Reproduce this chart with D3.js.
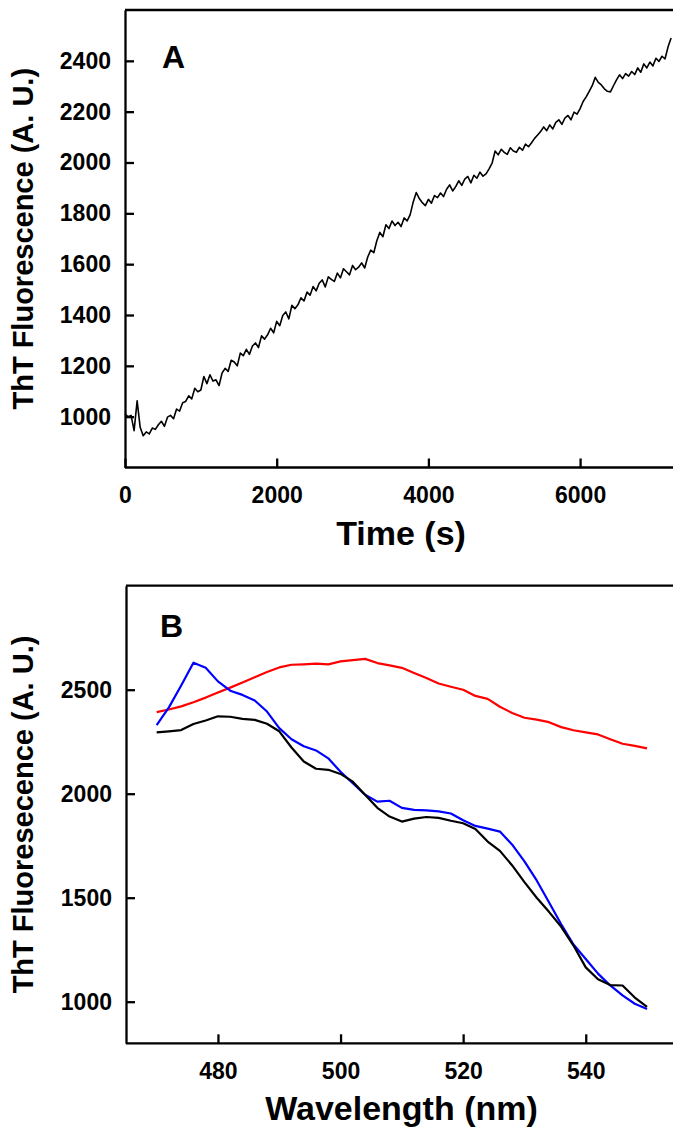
<!DOCTYPE html>
<html lang="en">
<head>
    <meta charset="UTF-8">
    <title>ThT fluorescence</title>
    <script src="https://d3js.org/d3.v7.min.js"></script>
    <style>
        body { margin: 0; background: #fff; }
        svg { display: block; font-family: "Liberation Sans", Arial, sans-serif; font-weight: bold; }
        .axis path, .axis line { stroke: #000; stroke-width: 2.3; }
        .axis text { font-size: 23px; font-weight: bold; fill: #000; font-family: "Liberation Sans", Arial, sans-serif; }
    </style>
</head>
<body>
<svg id="chart" width="673" height="1128"></svg>
<script>
    // Panel A: kinetics, one reading every 40 s starting at 0 s
    const timeStep = 40;
    const kinetics = [
        1010, 1000, 1005, 945, 1062, 958, 925, 940, 932, 955,
        950, 968, 982, 962, 998, 1005, 992, 1030, 1022, 1055,
        1060, 1082, 1070, 1112, 1098, 1105, 1158, 1130, 1165, 1140,
        1145, 1122, 1172, 1190, 1178, 1222, 1215, 1200, 1250, 1240,
        1265, 1245, 1278, 1290, 1272, 1318, 1305, 1322, 1348, 1330,
        1375, 1358, 1398, 1412, 1385, 1438, 1425, 1440, 1468, 1455,
        1490, 1478, 1512, 1495, 1525, 1538, 1510, 1550, 1540, 1532,
        1565, 1546, 1582, 1570, 1558, 1595, 1578, 1588, 1605, 1585,
        1628, 1655, 1645, 1692, 1725, 1708, 1755, 1740, 1770, 1752,
        1765, 1748, 1782, 1770, 1795, 1845, 1882, 1858, 1842, 1830,
        1855, 1840, 1870, 1862, 1880, 1866, 1895, 1912, 1888, 1905,
        1928, 1910, 1935, 1945, 1920, 1950, 1938, 1962, 1946, 1955,
        1975, 1998, 2045, 2030, 2052, 2040, 2032, 2058, 2045, 2040,
        2060, 2048, 2072, 2062, 2078, 2095, 2108, 2122, 2140, 2125,
        2148, 2132, 2158, 2168, 2150, 2175, 2185, 2168, 2198, 2190,
        2212, 2240, 2258, 2280, 2302, 2335, 2315, 2305, 2290, 2280,
        2278, 2302, 2325, 2345, 2330, 2350, 2340, 2358, 2346, 2372,
        2355, 2388, 2372, 2395, 2380, 2410, 2398, 2418, 2408, 2455,
        2490
    ];
    const timeTicks = [0, 2000, 4000, 6000];
    const kineticsTicks = [1000, 1200, 1400, 1600, 1800, 2000, 2200, 2400];

    // Panel B: emission spectra, every 2 nm from 470 nm
    const wavelengths = d3.range(470, 551, 2);
    const redSpectrum = [
        2392, 2405, 2420, 2440, 2462, 2487, 2510, 2535, 2560, 2585,
        2607, 2620, 2622, 2625, 2622, 2636, 2642, 2648, 2628, 2617,
        2605, 2580, 2556, 2530, 2514, 2500, 2470, 2456, 2418, 2388,
        2365, 2356, 2344, 2320, 2305, 2295, 2285, 2262, 2240, 2230,
        2218
    ];
    const blueSpectrum = [
        2330, 2415, 2520, 2630, 2605, 2540, 2495, 2475, 2448, 2395,
        2315, 2262, 2228, 2208, 2170, 2105, 2050, 1995, 1962, 1966,
        1932, 1922, 1920, 1915, 1905, 1872, 1845, 1832, 1818, 1755,
        1675, 1583, 1478, 1372, 1275, 1205, 1135, 1078, 1030, 990,
        965
    ];
    const blackSpectrum = [
        2295, 2300, 2306, 2335, 2352, 2372, 2370, 2360, 2355, 2336,
        2300, 2222, 2155, 2120, 2115, 2095, 2058, 1995, 1932, 1890,
        1866, 1880, 1888, 1884, 1870, 1858, 1830, 1770, 1725, 1655,
        1575, 1500, 1432, 1360, 1270, 1165, 1108, 1080, 1078, 1020,
        975
    ];
    const wavelengthTicks = [480, 500, 520, 540];
    const spectrumTicks = [1000, 1500, 2000, 2500];

    const svg = d3.select("#chart");
    const W = 673;

    function drawPanel(opts) {
        const g = svg.append("g");
        const x = opts.x, y = opts.y;
        const left = x.range()[0], top = y.range()[1], bottom = y.range()[0];

        // top border runs off the right edge of the picture
        g.append("line")
            .attr("x1", left).attr("x2", W)
            .attr("y1", top).attr("y2", top)
            .attr("stroke", "#000").attr("stroke-width", 2.3);

        g.append("g")
            .attr("class", "axis")
            .attr("transform", `translate(${left},0)`)
            .call(d3.axisLeft(y).tickValues(opts.yTicks).tickFormat(d3.format("d"))
                .tickSizeInner(-9).tickSizeOuter(0).tickPadding(14));

        const xa = g.append("g")
            .attr("class", "axis")
            .attr("transform", `translate(0,${bottom})`)
            .call(d3.axisBottom(x).tickValues(opts.xTicks).tickFormat(d3.format("d"))
                .tickSizeInner(-9).tickSizeOuter(0).tickPadding(19));
        xa.select(".domain").attr("d", `M${left},0H${W}`);

        // series
        opts.series.forEach(s => {
            g.append("path")
                .datum(s.values)
                .attr("fill", "none")
                .attr("stroke", s.color)
                .attr("stroke-width", s.width)
                .attr("stroke-linejoin", "round")
                .attr("d", d3.line().x((d, i) => x(s.xs(i))).y(d => y(d)));
        });

        // panel letter
        g.append("text")
            .attr("x", left + opts.letterDx)
            .attr("y", opts.letterY)
            .style("font-size", "32px")
            .text(opts.letter);

        // axis titles
        const mid = (top + bottom) / 2;
        g.append("text")
            .attr("transform", `translate(33,${mid}) rotate(-90)`)
            .attr("text-anchor", "middle")
            .style("font-size", "29px")
            .text(opts.yTitle);

        g.append("text")
            .attr("x", (left + 677) / 2)
            .attr("y", bottom + 77)
            .attr("text-anchor", "middle")
            .style("font-size", "34px")
            .text(opts.xTitle);
    }

    const xA = d3.scaleLinear().domain([0, 7300]).range([125, 678.7]);
    const yA = d3.scaleLinear().domain([800, 2600]).range([467.5, 10]);
    drawPanel({
        x: xA, y: yA,
        xTicks: timeTicks, yTicks: kineticsTicks,
        letter: "A", letterDx: 37, letterY: 68,
        yTitle: "ThT Fluorescence (A. U.)",
        xTitle: "Time (s)",
        series: [{ values: kinetics, color: "#000", width: 1.6, xs: i => i * timeStep }]
    });

    const xB = d3.scaleLinear().domain([465, 555]).range([126, 677.7]);
    const yB = d3.scaleLinear().domain([800, 3000]).range([1043.3, 585.7]);
    drawPanel({
        x: xB, y: yB,
        xTicks: wavelengthTicks, yTicks: spectrumTicks,
        letter: "B", letterDx: 34, letterY: 637,
        yTitle: "ThT Fluoresecence (A. U.)",
        xTitle: "Wavelength (nm)",
        series: [
            { values: redSpectrum, color: "#ff0000", width: 2.2, xs: i => wavelengths[i] },
            { values: blueSpectrum, color: "#0000ff", width: 2.2, xs: i => wavelengths[i] },
            { values: blackSpectrum, color: "#000", width: 2.2, xs: i => wavelengths[i] }
        ]
    });
</script>
</body>
</html>
